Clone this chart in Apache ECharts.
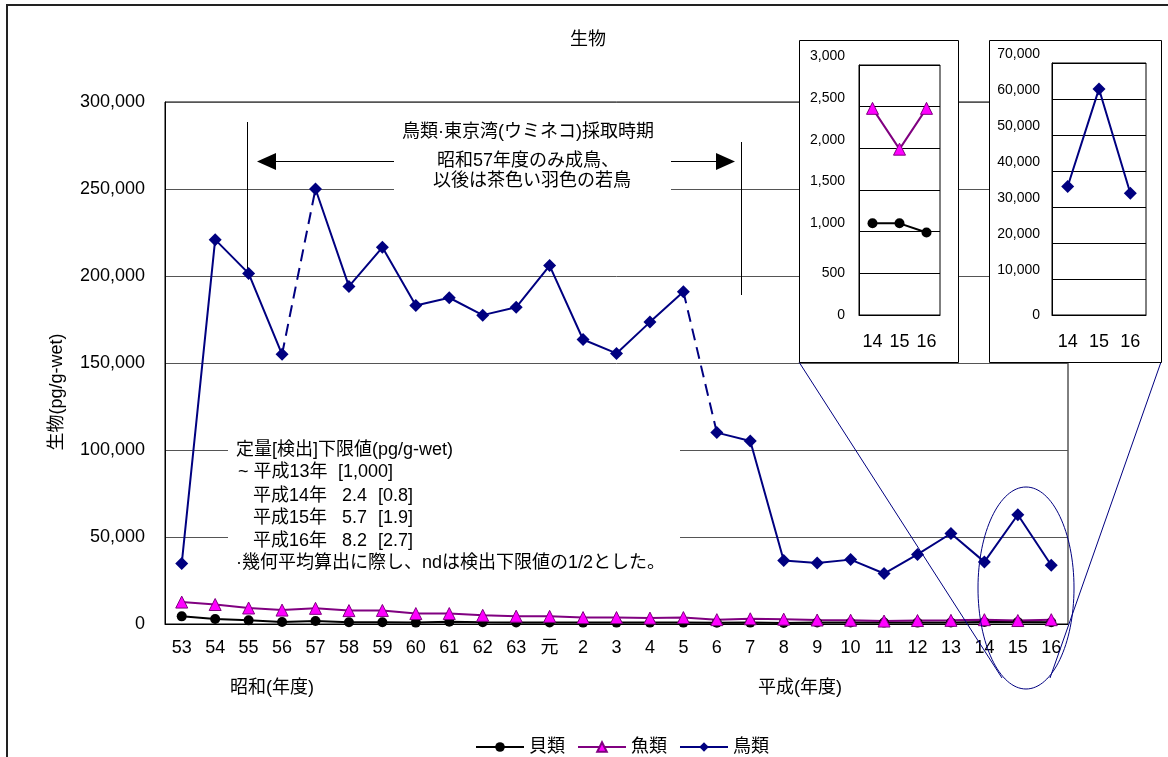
<!DOCTYPE html>
<html><head><meta charset="utf-8">
<script src="https://cdn.jsdelivr.net/npm/echarts@6/dist/echarts.min.js"></script>
<style>html,body{margin:0;padding:0;background:#fff}#c{width:1168px;height:757px}</style>
</head><body><div id="c"></div>
<script>
const categories = ['53','54','55','56','57','58','59','60','61','62','63','元','2','3','4','5','6','7','8','9','10','11','12','13','14','15','16'];
const shell = [4400,2900,2100,1200,1700,1000,1000,800,1300,1000,900,900,800,800,800,800,700,800,600,900,900,800,800,900,1100,1100,990];
const fish = [12600,11200,9200,8000,9000,7700,7800,6000,6000,5000,4500,4400,3700,3700,3400,3700,2500,3000,2800,2300,2200,1700,2000,2100,2480,1990,2480];
const birds = [34700,220900,201500,155000,250000,194000,216500,183000,187500,177500,182000,206000,163500,155500,173500,191000,110000,105200,36500,35000,37000,29000,40000,52000,35700,62800,33800];
const solidRanges = [[0,3],[4,15],[16,26]];
const dashedRanges = [[3,4],[15,16]];
const insetCount = 3;
const insetCategories = categories.slice(-insetCount);
const insetShell = shell.slice(-insetCount);
const insetFish = fish.slice(-insetCount);
const insetBirds = birds.slice(-insetCount);

const FONT = "'Liberation Sans','Noto Sans CJK JP',sans-serif";
const NAVY = '#000080', PURPLE = '#800080', MAGENTA = '#FF00FF';
const fmt = v => Number(v).toLocaleString('en-US');
const part = (arr, r) => arr.map((v,i) => (i>=r[0] && i<=r[1]) ? v : null);

const chart = echarts.init(document.getElementById('c'), null, {renderer:'canvas'});

const shellStyle = {type:'line', symbol:'circle', symbolSize:10, itemStyle:{color:'#000'}, lineStyle:{color:'#000',width:2}};
const fishStyle = {type:'line', symbol:'triangle', symbolSize:12, itemStyle:{color:MAGENTA,borderColor:PURPLE,borderWidth:1}, lineStyle:{color:PURPLE,width:2}};
const birdStyle = {type:'line', symbol:'diamond', symbolSize:13, itemStyle:{color:NAVY}, lineStyle:{color:NAVY,width:2}};

const series = [
  Object.assign({name:'貝類', data:shell, xAxisIndex:0, yAxisIndex:0, z:2}, shellStyle),
  Object.assign({name:'魚類', data:fish, xAxisIndex:0, yAxisIndex:0, z:2}, fishStyle),
];
solidRanges.forEach((r,k) => series.push(Object.assign({name: k===0?'鳥類':'鳥類_'+k, data:part(birds,r), xAxisIndex:0, yAxisIndex:0, z:3}, birdStyle)));
dashedRanges.forEach((r,k) => series.push({name:'鳥類_d'+k, type:'line', data:part(birds,r), symbol:'none', xAxisIndex:0, yAxisIndex:0, z:3, lineStyle:{color:NAVY,width:2,type:[12,7]}}));
series.push(Object.assign({name:'貝類_i', data:insetShell, xAxisIndex:1, yAxisIndex:1, z:12}, shellStyle));
series.push(Object.assign({name:'魚類_i', data:insetFish, xAxisIndex:1, yAxisIndex:1, z:12}, fishStyle));
series.push(Object.assign({name:'鳥類_i', data:insetBirds, xAxisIndex:2, yAxisIndex:2, z:12}, birdStyle));
series.forEach(s => { s.animation = false; s.silent = true; });

const txt = (x,y,t,extra) => Object.assign({type:'text', x:x, y:y, z:4, style:Object.assign({text:t, fill:'#000', font:"18px "+FONT, textVerticalAlign:'middle'}, extra||{})});
const line = (x1,y1,x2,y2,c,w,z) => ({type:'line', z:z||4, shape:{x1:x1,y1:y1,x2:x2,y2:y2}, style:{stroke:c||'#000', lineWidth:w||1}});

const graphic = [
  {type:'rect', z:0, shape:{x:7,y:5,width:1300,height:900}, style:{fill:'none', stroke:'#222', lineWidth:2}},
  {type:'text', x:57, y:392, rotation:Math.PI/2, z:4, style:{text:'生物(pg/g-wet)', fill:'#000', font:"18px "+FONT, textAlign:'center', textVerticalAlign:'middle'}},
  // white box behind top annotation
  {type:'rect', z:1, shape:{x:394,y:116,width:277,height:82}, style:{fill:'#fff'}},
  txt(528,132,'鳥類·東京湾(ウミネコ)採取時期',{textAlign:'center'}),
  txt(528,161,'昭和57年度のみ成鳥、',{textAlign:'center'}),
  txt(532,181,'以後は茶色い羽色の若鳥',{textAlign:'center'}),
  line(247.5,122,247.5,273,'#000',1,1),
  line(741.5,142,741.5,295,'#000',1,1),
  line(274,161.5,394,161.5,'#000',1.2),
  {type:'polygon', z:4, shape:{points:[[257,161.5],[276,153],[276,170]]}, style:{fill:'#000'}},
  line(671,161.5,717,161.5,'#000',1.2),
  {type:'polygon', z:4, shape:{points:[[735,161.5],[716,153],[716,170]]}, style:{fill:'#000'}},
  // white box behind note
  {type:'rect', z:1, shape:{x:228,y:440,width:452,height:134}, style:{fill:'#fff'}},
  txt(236,450,'定量[検出]下限値(pg/g-wet)'),
  txt(238,472,'~ 平成13年'),
  txt(338,472,'[1,000]'),
  txt(253,496,'平成14年'),
  txt(342,496,'2.4'),
  txt(378,496,'[0.8]'),
  txt(253,518,'平成15年'),
  txt(342,518,'5.7'),
  txt(378,518,'[1.9]'),
  txt(253,541,'平成16年'),
  txt(342,541,'8.2'),
  txt(378,541,'[2.7]'),
  txt(236,563,'·幾何平均算出に際し、ndは検出下限値の1/2とした。'),
  txt(272,688,'昭和(年度)',{textAlign:'center'}),
  txt(800,688,'平成(年度)',{textAlign:'center'}),
  // ellipse and connector lines
  {type:'ellipse', z:4, shape:{cx:1026,cy:588,rx:48,ry:101}, style:{fill:'none', stroke:NAVY, lineWidth:1}},
  line(799,362,1002,678,NAVY,1,4),
  line(1161,362,1050,678,NAVY,1,4),
  // inset boxes
  {type:'rect', z:5, shape:{x:799.5,y:40.5,width:159,height:322}, style:{fill:'#fff', stroke:'#000', lineWidth:1}},
  {type:'rect', z:5, shape:{x:989.5,y:40.5,width:172,height:322}, style:{fill:'#fff', stroke:'#000', lineWidth:1}},
];

const insetX = (idx) => ({type:'category', gridIndex:idx, data:insetCategories, z:10, boundaryGap:true,
  axisLine:{lineStyle:{color:'#000'}}, axisTick:{show:false},
  axisLabel:{color:'#000', fontSize:18, fontFamily:FONT, margin:18}});
// inset labels sit slightly above their grid lines in the reference (except the low ones)
const insetLabel = (low) => ({color:'#000', fontSize:14, fontFamily:FONT,
  formatter: v => (v <= low ? '{n|' : '{u|') + fmt(v) + '}',
  rich:{u:{fontSize:14, fontFamily:FONT, color:'#000', padding:[0,0,17,0]}, n:{fontSize:14, fontFamily:FONT, color:'#000'}}});

const option = {
  animation:false,
  backgroundColor:'#fff',
  title:{text:'生物', left:583, top:26, textAlign:'center', textStyle:{fontSize:18, fontWeight:'normal', color:'#000', fontFamily:FONT}},
  legend:{left:470, top:733, itemWidth:48, itemHeight:12, itemGap:12, data:['貝類','魚類','鳥類'],
    textStyle:{fontSize:18, color:'#000', fontFamily:FONT}},
  grid:[
    {left:165, top:102, width:903, height:522, show:true, borderColor:'#000', borderWidth:1, z:0},
    {left:859, top:65, width:81, height:250, show:true, borderColor:'#000', borderWidth:1, z:10},
    {left:1052, top:63, width:94, height:252, show:true, borderColor:'#000', borderWidth:1, z:10},
  ],
  xAxis:[
    {type:'category', gridIndex:0, data:categories, boundaryGap:true, axisLine:{lineStyle:{color:'#000'}}, axisTick:{show:false},
      axisLabel:{color:'#000', fontSize:18, fontFamily:FONT, margin:15, interval:0}},
    insetX(1), insetX(2)
  ],
  yAxis:[
    {type:'value', gridIndex:0, min:0, max:300000, interval:50000,
      axisLine:{show:true, lineStyle:{color:'#000'}}, axisTick:{show:false},
      splitLine:{lineStyle:{color:'#555', width:1}},
      axisLabel:{color:'#000', fontSize:18, fontFamily:FONT, margin:20, formatter:fmt}},
    Object.assign({type:'value', gridIndex:1, min:0, max:3000, interval:500, z:10,
      axisLine:{show:true, lineStyle:{color:'#000'}}, axisTick:{show:false},
      splitLine:{lineStyle:{color:'#000', width:1}}},
      {axisLabel:Object.assign({margin:14}, insetLabel(500))}),
    Object.assign({type:'value', gridIndex:2, min:0, max:70000, interval:10000, z:10,
      axisLine:{show:true, lineStyle:{color:'#000'}}, axisTick:{show:false},
      splitLine:{lineStyle:{color:'#000', width:1}}},
      {axisLabel:Object.assign({margin:12}, insetLabel(0))}),
  ],
  graphic:graphic,
  series:series
};
chart.setOption(option);
</script></body></html>
